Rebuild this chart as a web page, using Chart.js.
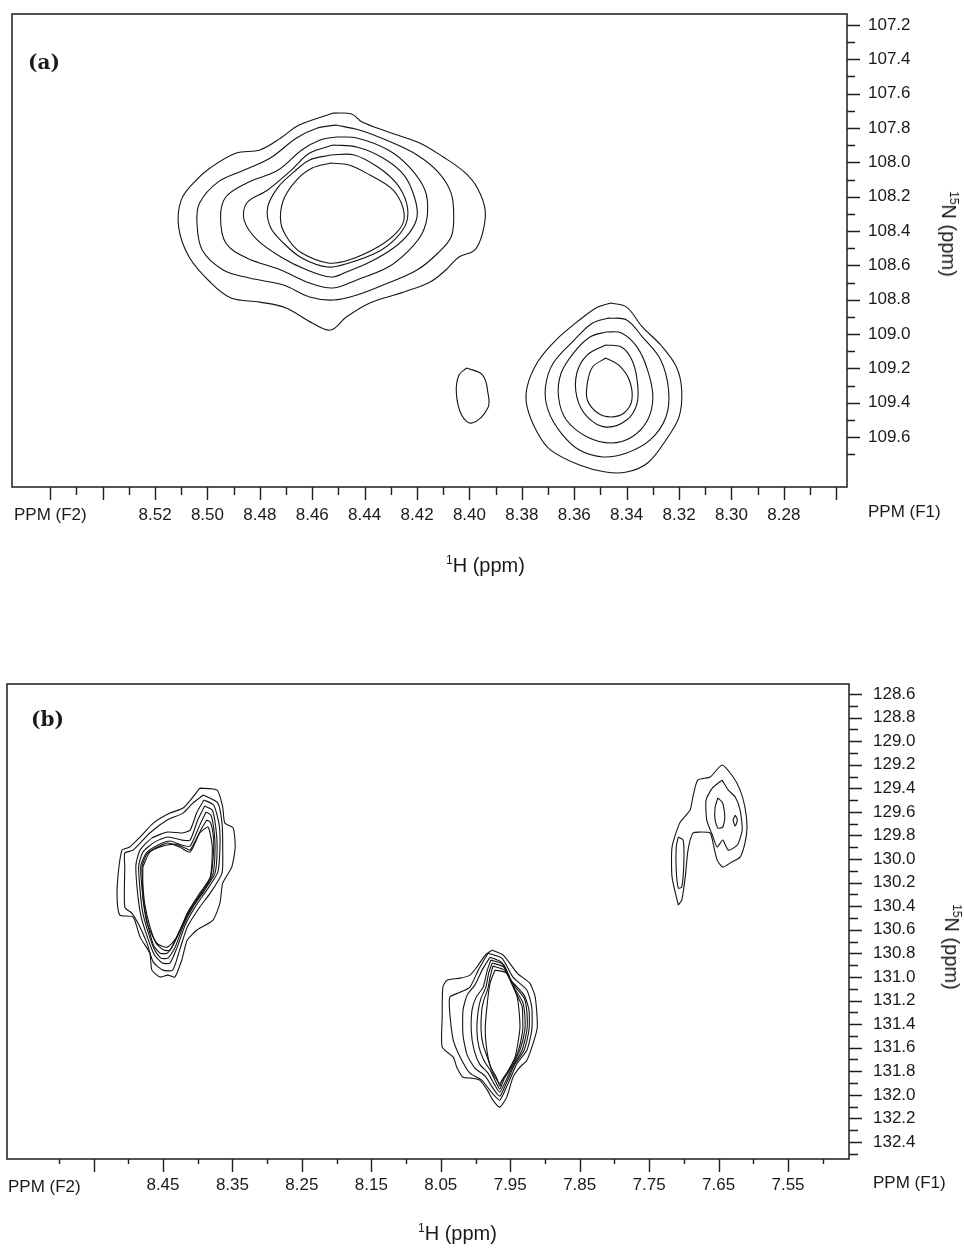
<!DOCTYPE html>
<html>
<head>
<meta charset="utf-8">
<script src="https://cdn.jsdelivr.net/npm/chart.js@4.4.1/dist/chart.umd.min.js"></script>
<style>
  body { margin: 0; background: #fff; width: 964px; height: 1248px; position: relative; overflow: hidden;
         font-family: "Liberation Sans", Arial, sans-serif; color: #1a1a1a; }
  .panel { position: absolute; left: 0; }
  .txt { position: absolute; font-size: 17px; line-height: 20px; white-space: nowrap; }
  .ttl { position: absolute; font-size: 20px; line-height: 20px; white-space: nowrap; }
  .tag { position: absolute; font-family: "DejaVu Serif", serif; font-weight: bold; font-size: 20px; line-height: 20px; }
  .rot { position: absolute; font-size: 20px; line-height: 20px; white-space: nowrap;
         transform: translate(-50%, -50%) rotate(90deg); }
  sup { font-size: 12px; line-height: 0; vertical-align: 8px; }
</style>
</head>
<body>

<div class="panel" style="top:-30px;width:964px;height:630px"><canvas id="panelA" width="964" height="630"></canvas></div>
<div class="panel" style="top:640px;width:964px;height:608px"><canvas id="panelB" width="964" height="608"></canvas></div>

<div class="tag" style="left:28px;top:52px">(a)</div>
<div class="txt" style="left:14px;top:505px">PPM (F2)</div>
<div class="txt" style="left:868px;top:502px">PPM (F1)</div>
<div class="ttl" style="left:446px;top:555px"><sup>1</sup>H (ppm)</div>
<div class="rot" style="left:949px;top:234px"><sup>15</sup>N (ppm)</div>

<div class="tag" style="left:31px;top:709px">(b)</div>
<div class="txt" style="left:8px;top:1177px">PPM (F2)</div>
<div class="txt" style="left:873px;top:1173px">PPM (F1)</div>
<div class="ttl" style="left:418px;top:1223px"><sup>1</sup>H (ppm)</div>
<div class="rot" style="left:952px;top:947px"><sup>15</sup>N (ppm)</div>

<script>
// ---- panel (a): axes ----
var hMajorA  = [8.56, 8.54, 8.52, 8.50, 8.48, 8.46, 8.44, 8.42, 8.40, 8.38, 8.36, 8.34, 8.32, 8.30, 8.28, 8.26];
var hMinorA  = [8.55, 8.53, 8.51, 8.49, 8.47, 8.45, 8.43, 8.41, 8.39, 8.37, 8.35, 8.33, 8.31, 8.29, 8.27];
var hLabelsA = [8.52, 8.50, 8.48, 8.46, 8.44, 8.42, 8.40, 8.38, 8.36, 8.34, 8.32, 8.30, 8.28];
var nMajorA  = [107.2, 107.4, 107.6, 107.8, 108.0, 108.2, 108.4, 108.6, 108.8, 109.0, 109.2, 109.4, 109.6];
var nMinorA  = [107.3, 107.5, 107.7, 107.9, 108.1, 108.3, 108.5, 108.7, 108.9, 109.1, 109.3, 109.5, 109.7];

// ---- panel (a): contour rings, [1H ppm, 15N ppm] ----
var bigPeakA = [
  [[8.452,107.713],[8.445,107.718],[8.441,107.765],[8.431,107.823],[8.419,107.887],[8.410,107.969],[8.402,108.056],[8.397,108.149],[8.394,108.278],[8.395,108.412],[8.398,108.511],[8.404,108.551],[8.409,108.627],[8.415,108.697],[8.425,108.755],[8.438,108.819],[8.447,108.901],[8.453,108.977],[8.460,108.936],[8.470,108.848],[8.480,108.814],[8.491,108.790],[8.499,108.697],[8.507,108.551],[8.511,108.377],[8.510,108.219],[8.505,108.115],[8.499,108.033],[8.489,107.946],[8.480,107.928],[8.472,107.858],[8.465,107.783]],
  [[8.451,107.783],[8.442,107.812],[8.430,107.882],[8.420,107.957],[8.412,108.056],[8.407,108.179],[8.406,108.318],[8.407,108.435],[8.412,108.528],[8.420,108.627],[8.433,108.715],[8.443,108.773],[8.452,108.802],[8.461,108.784],[8.471,108.715],[8.484,108.674],[8.494,108.627],[8.502,108.511],[8.504,108.353],[8.503,108.237],[8.496,108.115],[8.486,108.045],[8.476,107.975],[8.466,107.858],[8.458,107.800]],
  [[8.451,107.852],[8.443,107.858],[8.431,107.928],[8.423,108.027],[8.417,108.161],[8.416,108.295],[8.418,108.412],[8.423,108.511],[8.431,108.610],[8.443,108.685],[8.452,108.732],[8.461,108.703],[8.472,108.627],[8.485,108.557],[8.493,108.470],[8.495,108.318],[8.493,108.202],[8.485,108.120],[8.473,108.045],[8.464,107.928],[8.457,107.870]],
  [[8.452,107.899],[8.443,107.911],[8.433,107.975],[8.425,108.074],[8.421,108.202],[8.420,108.318],[8.423,108.412],[8.429,108.499],[8.438,108.581],[8.447,108.639],[8.453,108.668],[8.462,108.627],[8.472,108.551],[8.481,108.452],[8.486,108.336],[8.485,108.237],[8.477,108.161],[8.468,108.045],[8.461,107.946]],
  [[8.453,107.957],[8.444,107.957],[8.435,108.027],[8.428,108.120],[8.424,108.237],[8.424,108.348],[8.428,108.441],[8.435,108.522],[8.446,108.586],[8.454,108.610],[8.464,108.557],[8.471,108.470],[8.476,108.377],[8.477,108.260],[8.473,108.144],[8.467,108.056],[8.461,107.986]],
  [[8.453,108.004],[8.446,108.016],[8.438,108.074],[8.430,108.149],[8.426,108.237],[8.425,108.336],[8.428,108.412],[8.435,108.493],[8.446,108.569],[8.454,108.586],[8.464,108.528],[8.469,108.452],[8.472,108.353],[8.471,108.219],[8.466,108.103],[8.460,108.033]]
];
var smallPeakA = [
  [[8.346,108.819],[8.340,108.843],[8.334,108.959],[8.327,109.064],[8.321,109.192],[8.319,109.326],[8.320,109.483],[8.325,109.617],[8.332,109.751],[8.340,109.804],[8.348,109.804],[8.358,109.763],[8.369,109.676],[8.374,109.577],[8.378,109.425],[8.378,109.309],[8.374,109.163],[8.367,109.035],[8.358,108.918],[8.351,108.843]],
  [[8.347,108.907],[8.340,108.918],[8.334,109.017],[8.327,109.151],[8.324,109.326],[8.325,109.483],[8.331,109.617],[8.340,109.693],[8.349,109.716],[8.358,109.676],[8.365,109.577],[8.370,109.443],[8.371,109.309],[8.368,109.169],[8.360,109.035],[8.353,108.936]],
  [[8.348,108.988],[8.342,108.994],[8.336,109.076],[8.332,109.210],[8.330,109.367],[8.332,109.501],[8.338,109.600],[8.346,109.635],[8.355,109.600],[8.363,109.501],[8.366,109.367],[8.365,109.227],[8.360,109.105],[8.354,109.017]],
  [[8.348,109.064],[8.342,109.076],[8.338,109.151],[8.336,109.268],[8.336,109.402],[8.340,109.501],[8.348,109.542],[8.355,109.483],[8.359,109.367],[8.359,109.227],[8.355,109.122]],
  [[8.348,109.140],[8.343,109.181],[8.339,109.268],[8.338,109.384],[8.341,109.460],[8.346,109.483],[8.351,109.460],[8.355,109.384],[8.355,109.285],[8.353,109.192]]
];
var weakPeakA = [
  [[8.401,109.198],[8.395,109.239],[8.393,109.338],[8.393,109.431],[8.399,109.518],[8.403,109.472],[8.405,109.344],[8.404,109.239]]
];

// ---- panel (b): axes ----
var hMajorB  = [8.55, 8.45, 8.35, 8.25, 8.15, 8.05, 7.95, 7.85, 7.75, 7.65, 7.55];
var hMinorB  = [8.60, 8.50, 8.40, 8.30, 8.20, 8.10, 8.00, 7.90, 7.80, 7.70, 7.60, 7.50];
var hLabelsB = [8.45, 8.35, 8.25, 8.15, 8.05, 7.95, 7.85, 7.75, 7.65, 7.55];
var nMajorB  = [128.6, 128.8, 129.0, 129.2, 129.4, 129.6, 129.8, 130.0, 130.2, 130.4, 130.6, 130.8, 131.0, 131.2, 131.4, 131.6, 131.8, 132.0, 132.2, 132.4];
var nMinorB  = [128.7, 128.9, 129.1, 129.3, 129.5, 129.7, 129.9, 130.1, 130.3, 130.5, 130.7, 130.9, 131.1, 131.3, 131.5, 131.7, 131.9, 132.1, 132.3, 132.5];

// ---- panel (b): contour rings ----
var leftPeakB = [
  [[8.397,129.398],[8.372,129.415],[8.364,129.559],[8.361,129.695],[8.349,129.737],[8.346,129.898],[8.351,130.068],[8.364,130.204],[8.368,130.373],[8.378,130.518],[8.401,130.602],[8.415,130.687],[8.423,130.857],[8.433,131.001],[8.443,130.984],[8.454,131.001],[8.466,130.942],[8.469,130.798],[8.483,130.662],[8.493,130.492],[8.512,130.475],[8.516,130.348],[8.515,130.153],[8.509,129.924],[8.498,129.898],[8.483,129.813],[8.464,129.695],[8.440,129.610],[8.421,129.567],[8.407,129.474]],
  [[8.392,129.457],[8.371,129.525],[8.365,129.695],[8.364,129.898],[8.365,130.119],[8.382,130.289],[8.397,130.407],[8.415,130.577],[8.426,130.772],[8.436,130.942],[8.450,130.942],[8.464,130.874],[8.473,130.713],[8.486,130.543],[8.495,130.458],[8.505,130.407],[8.505,130.068],[8.505,129.949],[8.493,129.924],[8.469,129.779],[8.444,129.669],[8.421,129.610],[8.407,129.525]],
  [[8.391,129.499],[8.377,129.542],[8.369,129.712],[8.368,129.907],[8.371,130.110],[8.387,130.263],[8.402,130.390],[8.418,130.560],[8.430,130.755],[8.440,130.882],[8.451,130.882],[8.462,130.815],[8.472,130.670],[8.482,130.475],[8.487,130.263],[8.489,130.051],[8.483,129.924],[8.466,129.822],[8.443,129.771],[8.423,129.779],[8.411,129.754],[8.401,129.601]],
  [[8.390,129.550],[8.379,129.584],[8.374,129.729],[8.372,129.907],[8.375,130.119],[8.390,130.263],[8.405,130.390],[8.421,130.569],[8.433,130.755],[8.443,130.840],[8.453,130.840],[8.462,130.772],[8.470,130.645],[8.479,130.458],[8.483,130.263],[8.485,130.059],[8.479,129.941],[8.462,129.856],[8.443,129.813],[8.423,129.839],[8.411,129.839],[8.400,129.669]],
  [[8.388,129.601],[8.381,129.627],[8.377,129.737],[8.375,129.907],[8.378,130.127],[8.392,130.272],[8.408,130.407],[8.424,130.586],[8.436,130.738],[8.444,130.798],[8.454,130.798],[8.463,130.738],[8.470,130.602],[8.476,130.433],[8.480,130.263],[8.482,130.059],[8.474,129.949],[8.457,129.881],[8.440,129.847],[8.423,129.881],[8.411,129.890],[8.397,129.712]],
  [[8.387,129.669],[8.382,129.686],[8.378,129.779],[8.377,129.907],[8.381,130.144],[8.394,130.280],[8.411,130.424],[8.427,130.619],[8.440,130.772],[8.449,130.772],[8.460,130.713],[8.469,130.569],[8.476,130.390],[8.479,130.221],[8.480,130.059],[8.472,129.949],[8.451,129.890],[8.433,129.873],[8.418,129.907],[8.411,129.924],[8.394,129.737]],
  [[8.479,130.068],[8.469,129.941],[8.444,129.864],[8.426,129.898],[8.411,129.941],[8.397,129.779],[8.385,129.729],[8.379,129.898],[8.382,130.153],[8.397,130.289],[8.415,130.458],[8.430,130.662],[8.444,130.747],[8.459,130.713],[8.473,130.543],[8.479,130.322]]
];
var midPeakB = [
  [[7.976,130.772],[7.960,130.815],[7.940,130.967],[7.922,131.052],[7.914,131.171],[7.911,131.426],[7.917,131.561],[7.926,131.706],[7.936,131.765],[7.946,131.850],[7.955,132.019],[7.965,132.104],[7.975,132.045],[7.983,131.960],[7.994,131.875],[8.005,131.858],[8.018,131.850],[8.027,131.765],[8.032,131.680],[8.048,131.595],[8.048,131.341],[8.047,131.086],[8.041,131.027],[8.022,131.010],[8.008,130.984],[7.998,130.916],[7.986,130.815]],
  [[7.982,130.798],[7.962,130.840],[7.946,131.001],[7.926,131.112],[7.919,131.256],[7.919,131.451],[7.926,131.621],[7.940,131.731],[7.953,131.901],[7.965,132.045],[7.976,131.986],[7.991,131.875],[8.008,131.816],[8.022,131.680],[8.032,131.536],[8.037,131.307],[8.037,131.171],[8.022,131.129],[8.008,131.086],[7.996,130.942]],
  [[7.979,130.832],[7.963,130.874],[7.949,131.027],[7.930,131.154],[7.923,131.281],[7.923,131.451],[7.930,131.621],[7.943,131.739],[7.955,131.892],[7.965,132.011],[7.975,131.943],[7.986,131.841],[8.001,131.773],[8.012,131.663],[8.018,131.493],[8.018,131.281],[8.012,131.154],[8.001,131.069],[7.989,130.925]],
  [[7.978,130.857],[7.960,130.891],[7.947,131.052],[7.930,131.179],[7.926,131.298],[7.926,131.451],[7.933,131.621],[7.946,131.756],[7.956,131.875],[7.965,131.977],[7.973,131.909],[7.982,131.816],[7.994,131.739],[8.002,131.621],[8.006,131.468],[8.005,131.281],[7.999,131.171],[7.989,131.086],[7.983,130.942]],
  [[7.976,130.882],[7.959,130.916],[7.945,131.086],[7.932,131.213],[7.929,131.324],[7.929,131.451],[7.936,131.621],[7.949,131.773],[7.959,131.867],[7.965,131.952],[7.972,131.875],[7.979,131.790],[7.988,131.706],[7.995,131.595],[7.998,131.451],[7.996,131.281],[7.992,131.179],[7.985,131.086],[7.981,130.967]],
  [[7.975,130.908],[7.958,130.942],[7.943,131.120],[7.933,131.247],[7.932,131.349],[7.932,131.451],[7.939,131.638],[7.952,131.790],[7.962,131.875],[7.965,131.926],[7.970,131.850],[7.978,131.765],[7.983,131.680],[7.989,131.578],[7.992,131.451],[7.991,131.281],[7.988,131.196],[7.982,131.095],[7.979,131.001]],
  [[7.972,130.942],[7.955,130.967],[7.940,131.171],[7.936,131.426],[7.943,131.680],[7.955,131.816],[7.965,131.901],[7.975,131.816],[7.982,131.680],[7.986,131.451],[7.983,131.222],[7.979,131.052]]
];
var rightPeakB = [
  [[7.708,130.390],[7.717,130.153],[7.717,129.898],[7.706,129.695],[7.691,129.584],[7.687,129.474],[7.680,129.330],[7.662,129.304],[7.645,129.202],[7.629,129.304],[7.619,129.415],[7.612,129.559],[7.609,129.729],[7.612,129.864],[7.619,129.983],[7.631,130.025],[7.644,130.068],[7.652,130.009],[7.658,129.864],[7.662,129.779],[7.677,129.771],[7.687,129.779],[7.694,129.924],[7.698,130.153],[7.703,130.348]],
  [[7.645,129.330],[7.636,129.415],[7.626,129.474],[7.619,129.584],[7.616,129.754],[7.623,129.881],[7.636,129.924],[7.644,129.839],[7.652,129.898],[7.659,129.796],[7.667,129.669],[7.668,129.499],[7.659,129.398]],
  [[7.651,129.482],[7.644,129.525],[7.641,129.644],[7.644,129.729],[7.651,129.737],[7.655,129.669],[7.655,129.559]],
  [[7.626,129.627],[7.623,129.669],[7.626,129.720],[7.629,129.669]],
  [[7.708,129.813],[7.701,129.839],[7.700,130.034],[7.703,130.238],[7.708,130.246],[7.711,130.093],[7.711,129.898]]
];

var FONT = '"Liberation Sans", Arial, sans-serif';

// closed contour line per ring
function ringsToDatasets(rings, tension) {
  return rings.map(function (r) {
    return {
      data: r.concat([r[0]]).map(function (p) { return { x: p[0], y: p[1] }; }),
      showLine: true,
      borderColor: '#141414',
      borderWidth: 1.1,
      pointRadius: 0,
      fill: false,
      tension: tension
    };
  });
}

function hasValue(list, v) {
  return list.some(function (l) { return Math.abs(l - v) < 1e-6; });
}

// frame plus outward tick marks of two lengths
var frameTicks = {
  id: 'frameTicks',
  afterDraw: function (chart, args, o) {
    var ctx = chart.ctx, a = chart.chartArea, sx = chart.scales.x, sy = chart.scales.y;
    ctx.save();
    ctx.strokeStyle = '#1e1e1e';
    ctx.lineWidth = 1.4;
    ctx.beginPath();
    function tickX(v, len) {
      var px = Math.round(sx.getPixelForValue(v)) + 0.5;
      ctx.moveTo(px, a.bottom); ctx.lineTo(px, a.bottom + len);
    }
    function tickY(v, len) {
      var py = Math.round(sy.getPixelForValue(v)) + 0.5;
      ctx.moveTo(a.right, py); ctx.lineTo(a.right + len, py);
    }
    o.xMajor.forEach(function (v) { tickX(v, o.xMajorLen); });
    o.xMinor.forEach(function (v) { tickX(v, o.xMinorLen); });
    o.yMajor.forEach(function (v) { tickY(v, o.yMajorLen); });
    o.yMinor.forEach(function (v) { tickY(v, o.yMinorLen); });
    ctx.stroke();
    ctx.lineWidth = 1.6;
    ctx.strokeStyle = '#2a2a2a';
    ctx.strokeRect(a.left, a.top, a.right - a.left, a.bottom - a.top);
    ctx.restore();
  }
};

function makePanel(id, p) {
  new Chart(document.getElementById(id), {
    type: 'scatter',
    data: { datasets: p.datasets },
    plugins: [frameTicks],
    options: {
      responsive: false,
      animation: false,
      devicePixelRatio: 1,
      layout: { padding: { left: p.padLeft, top: p.padTop, right: 0, bottom: 0 } },
      plugins: {
        legend: { display: false },
        tooltip: { enabled: false },
        frameTicks: {
          xMajor: p.xMajor, xMinor: p.xMinor, yMajor: p.yMajor, yMinor: p.yMinor,
          xMajorLen: p.xMajorLen, xMinorLen: p.xMinorLen, yMajorLen: 13, yMinorLen: p.yMinorLen
        }
      },
      scales: {
        x: {
          type: 'linear', reverse: true, min: p.xMin, max: p.xMax,
          afterBuildTicks: function (s) { s.ticks = p.xLabels.map(function (v) { return { value: v }; }); },
          afterFit: function (s) { s.height = p.xAxisHeight; },
          grid: { display: false, drawTicks: false },
          border: { display: false },
          ticks: {
            autoSkip: false, maxRotation: 0, minRotation: 0, padding: p.xPad, color: '#1a1a1a',
            font: { family: FONT, size: 17 },
            callback: function (v) { return hasValue(p.xLabels, v) ? Number(v).toFixed(2) : ''; }
          }
        },
        y: {
          type: 'linear', position: 'right', reverse: true, min: p.yMin, max: p.yMax,
          afterBuildTicks: function (s) { s.ticks = p.yMajor.map(function (v) { return { value: v }; }); },
          afterFit: function (s) { s.width = p.yAxisWidth; },
          grid: { display: false, drawTicks: false },
          border: { display: false },
          ticks: {
            autoSkip: false, padding: p.yPad, color: '#1a1a1a',
            font: { family: FONT, size: 17 },
            callback: function (v) { return Number(v).toFixed(1); }
          }
        }
      }
    }
  });
}

// panel (a) canvas starts 30px above the page, so its plot frame sits at y = 14
makePanel('panelA', {
  datasets: ringsToDatasets(bigPeakA, 0.35)
    .concat(ringsToDatasets(smallPeakA, 0.35))
    .concat(ringsToDatasets(weakPeakA, 0.4)),
  xMin: 8.2559, xMax: 8.5746, yMin: 107.136, yMax: 109.891,
  xMajor: hMajorA, xMinor: hMinorA, xLabels: hLabelsA,
  yMajor: nMajorA, yMinor: nMinorA,
  xMajorLen: 13, xMinorLen: 8, yMinorLen: 8,
  padLeft: 12, padTop: 44, xAxisHeight: 113, yAxisWidth: 117, xPad: 18, yPad: 21
});

makePanel('panelB', {
  datasets: ringsToDatasets(leftPeakB, 0.2)
    .concat(ringsToDatasets(midPeakB, 0.2))
    .concat(ringsToDatasets(rightPeakB, 0.2)),
  xMin: 7.4622, xMax: 8.6746, yMin: 128.515, yMax: 132.544,
  xMajor: hMajorB, xMinor: hMinorB, xLabels: hLabelsB,
  yMajor: nMajorB, yMinor: nMinorB,
  xMajorLen: 13, xMinorLen: 5, yMinorLen: 9,
  padLeft: 7, padTop: 44, xAxisHeight: 89, yAxisWidth: 115, xPad: 16, yPad: 24
});
</script>
</body>
</html>
